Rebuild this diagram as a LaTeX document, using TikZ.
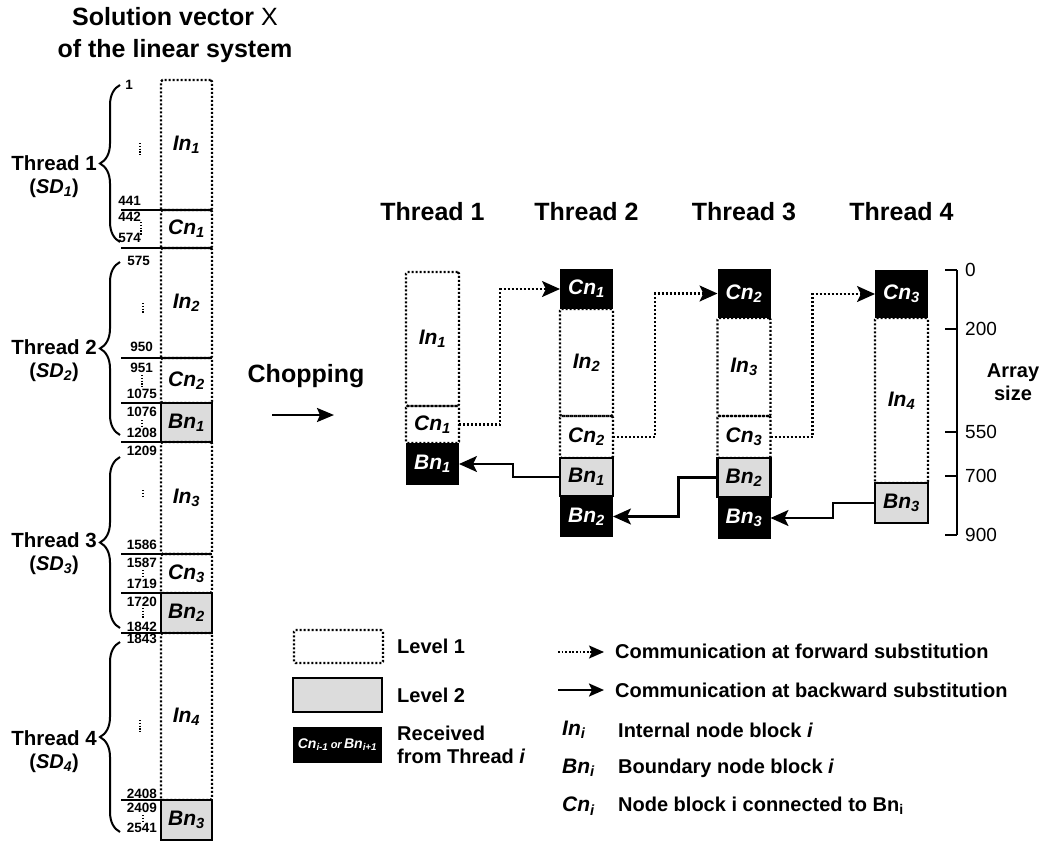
\documentclass[tikz,border=0pt]{standalone}
\usepackage{fontspec}
\setmainfont{Liberation Sans}
\usetikzlibrary{positioning,arrows.meta,decorations.pathreplacing}
\definecolor{lvgray}{HTML}{DCDCDC}
\newcommand\fsz[1]{\fontsize{#1}{#1}\selectfont}
\newcommand\blk[2]{#1\textsubscript{#2}}

\begin{document}
\begin{tikzpicture}[
  x=1pt, y=-1pt,
  font=\fsz{20}\bfseries,
  lvone/.style={draw, line width=2.2pt, dash pattern=on 2pt off 2pt, rounded corners=1.5pt,
                inner sep=0pt, outer sep=0pt, font=\fsz{21}\bfseries\itshape},
  lvtwo/.style={draw, line width=2.2pt, fill=lvgray, inner sep=0pt, outer sep=0pt,
                font=\fsz{21}\bfseries\itshape},
  recv/.style={fill=black, text=white, inner sep=0pt, outer sep=0pt, font=\fsz{21}\bfseries\itshape},
  tblk/.style={minimum width=53},
  lblk/.style={minimum width=51},
  sepline/.style={line width=2.4pt},
  brc/.style={decorate, decoration={brace, amplitude=20pt}, line width=2pt},
  num/.style={font=\fsz{13.5}\bfseries, inner sep=0pt},
  vdot/.style={line width=1.4pt, dash pattern=on 1.4pt off 1.4pt},
  tip/.style={-{Stealth[length=18pt, width=16pt, inset=4pt]}},
  farr/.style={tip, line width=2.2pt, dash pattern=on 2pt off 2pt},
  barr/.style={tip, line width=2.2pt},
  txt/.style={inner sep=0pt},
  hd/.style={txt, font=\fsz{25}\bfseries},
  keyblk/.style={txt, font=\fsz{21}\bfseries\itshape}
]
\useasboundingbox (0,0) rectangle (1043,846);
% ----- left column: solution vector -----
\node[hd, align=center] (title) at (175,35) {Solution vector {\mdseries X}\\[7pt]of the linear system};
\node[lvone, lblk, minimum height=130, anchor=north] (lin1) at (186.5,80) {\blk{In}{1}};
\node[lvone, lblk, minimum height=38, below=0pt of lin1] (lcn1) {\blk{Cn}{1}};
\node[lvone, lblk, minimum height=110, below=0pt of lcn1] (lin2) {\blk{In}{2}};
\node[lvone, lblk, minimum height=45, below=0pt of lin2] (lcn2) {\blk{Cn}{2}};
\node[lvtwo, lblk, minimum height=39, below=0pt of lcn2] (lbn1) {\blk{Bn}{1}};
\node[lvone, lblk, minimum height=112, below=0pt of lbn1] (lin3) {\blk{In}{3}};
\node[lvone, lblk, minimum height=39, below=0pt of lin3] (lcn3) {\blk{Cn}{3}};
\node[lvtwo, lblk, minimum height=40, below=0pt of lcn3] (lbn2) {\blk{Bn}{2}};
\node[lvone, lblk, minimum height=167, below=0pt of lbn2] (lin4) {\blk{In}{4}};
\node[lvtwo, lblk, minimum height=40, below=0pt of lin4] (lbn3) {\blk{Bn}{3}};
\foreach \n in {lin1,lcn1,lin2,lcn2,lbn1,lin3,lcn3,lbn2,lin4}{\draw[sepline] (\n.south east) -- ++(-91,0);}
% index numbers
\foreach \t/\x/\y in {1/133/85, 441/141/201, 442/141/217, 574/141/238, 575/150/261, 950/153/347,
  951/153/368, 1075/157/394, 1076/157/412, 1208/157/433, 1209/157/451, 1586/157/545,
  1587/157/563, 1719/157/584, 1720/157/602, 1842/157/627, 1843/157/639, 2408/157/794,
  2409/157/808, 2541/157/828}{\node[num, anchor=east] (n\t) at (\x,\y) {\t};}
\foreach \x/\a/\b in {140/143/155, 141/222/235, 143/303/313, 142/375/387, 142/420/428,
  143/490/498, 143/570/578, 143/608/618, 140/720/732, 143/815/822}{\draw[vdot] (\x,\a) -- (\x,\b);}
% thread braces
\draw[brc] (120,242) -- (120,85);
\draw[brc] (120,435) -- (120,262);
\draw[brc] (120,628) -- (120,457);
\draw[brc] (120,832) -- (120,642);
\foreach \i/\y in {1/163, 2/347, 3/540, 4/738}{
  \node[txt, anchor=east, font=\fsz{20.5}\bfseries] (lt\i) at (97,\y) {Thread \i};
  \node[txt, below=8pt of lt\i] (lsd\i) {(\textit{SD}\textsubscript{\itshape\i})};
}
% ----- chopping -----
\node[txt, font=\fsz{25}\bfseries] (chop) at (306,376) {Chopping};
\coordinate (chopa) at (272,415);
\coordinate (chopb) at (334,415);
\draw[line width=2.4pt, -{Stealth[length=17pt, width=14pt, inset=3pt]}] (chopa) -- (chopb);
% ----- thread columns -----
\foreach \i/\x in {1/432.5, 2/586.5, 3/744, 4/901.5}{\node[hd] (hd\i) at (\x,212) {Thread \i};}
\node[lvone, tblk, minimum height=134, anchor=north] (t1in) at (432.5,272) {\blk{In}{1}};
\node[lvone, tblk, minimum height=37, below=0pt of t1in] (t1cn) {\blk{Cn}{1}};
\node[recv, tblk, minimum height=42, below=0pt of t1cn] (t1bn) {\blk{Bn}{1}};
\node[recv, tblk, minimum height=40, anchor=north] (t2cn1) at (586.5,269) {\blk{Cn}{1}};
\node[lvone, tblk, minimum height=107, below=0pt of t2cn1] (t2in) {\blk{In}{2}};
\node[lvone, tblk, minimum height=42, below=0pt of t2in] (t2cn) {\blk{Cn}{2}};
\node[lvtwo, tblk, minimum height=38, below=0pt of t2cn] (t2bn1) {\blk{Bn}{1}};
\node[recv, tblk, minimum height=41, below=0pt of t2bn1] (t2bn2) {\blk{Bn}{2}};
\node[recv, tblk, minimum height=49, anchor=north] (t3cn2) at (744,269) {\blk{Cn}{2}};
\node[lvone, tblk, minimum height=98, below=0pt of t3cn2] (t3in) {\blk{In}{3}};
\node[lvone, tblk, minimum height=42, below=0pt of t3in] (t3cn) {\blk{Cn}{3}};
\node[lvtwo, tblk, minimum height=39, below=0pt of t3cn] (t3bn2) {\blk{Bn}{2}};
\node[recv, tblk, minimum height=42, below=0pt of t3bn2] (t3bn3) {\blk{Bn}{3}};
\node[recv, tblk, minimum height=48, anchor=north] (t4cn3) at (901.5,270) {\blk{Cn}{3}};
\node[lvone, tblk, minimum height=165, below=0pt of t4cn3] (t4in) {\blk{In}{4}};
\node[lvtwo, tblk, minimum height=40, below=0pt of t4in] (t4bn) {\blk{Bn}{3}};
% forward / backward communication
\foreach \a/\b/\d in {t1cn/t2cn1/41, t2cn/t3cn2/42, t3cn/t4cn3/42}{\draw[farr] (\a.east) -- ++(\d,0) |- (\b.west);}
\foreach \a/\b/\d in {t2bn1/t1bn/47, t3bn2/t2bn2/39, t4bn/t3bn3/42}{\draw[barr] (\a.west) -- ++(-\d,0) |- (\b.east);}
% ----- array size axis -----
\draw[line width=2.4pt] (957,270) -- (957,535);
\foreach \v in {0,200,550,700,900}{
  \draw[line width=2.4pt] (945,{270+\v*0.2944}) -- (957,{270+\v*0.2944});
  \node[txt, anchor=west, font=\fsz{19}\mdseries] (ax\v) at (965,{270+\v*0.2944}) {\v};
}
\node[txt, align=center] (axlab) at (1013,382) {Array\\[3pt]size};
% ----- legend -----
\node[lvone, minimum width=89, minimum height=33, anchor=north west] (keyone) at (294,630) {};
\node[txt, right=14pt of keyone] (keyonetxt) {Level 1};
\node[lvtwo, minimum width=89, minimum height=34, anchor=north west] (keytwo) at (293,678) {};
\node[txt, right=15pt of keytwo] (keytwotxt) {Level 2};
\node[recv, minimum width=89, minimum height=36, anchor=north west, font=\fsz{14}\bfseries\itshape] (keythree) at (293,727)
  {\blk{Cn}{i-1}\,{\fsz{11}or}\,\blk{Bn}{i+1}};
\node[txt, right=15pt of keythree, align=left] (keythreetxt) {Received\\[3pt]from Thread \textit{i}};
\coordinate (fwa) at (558,652);
\coordinate (fwb) at (604,652);
\draw[line width=1.8pt, dash pattern=on 1.8pt off 1.8pt, -{Stealth[length=15pt, width=13pt, inset=3pt]}] (fwa) -- (fwb);
\node[txt, anchor=west] (fwtxt) at (615,651) {Communication at forward substitution};
\coordinate (bwa) at (558,690);
\coordinate (bwb) at (604,690);
\draw[line width=2.2pt, -{Stealth[length=15pt, width=13pt, inset=3pt]}] (bwa) -- (bwb);
\node[txt, anchor=west] (bwtxt) at (615,690) {Communication at backward substitution};
\node[keyblk, anchor=west] (keyin) at (562,730) {\blk{In}{i}};
\node[txt, anchor=west] (keyintxt) at (618,730) {Internal node block \textit{i}};
\node[keyblk, anchor=west] (keybn) at (562,768) {\blk{Bn}{i}};
\node[txt, anchor=west] (keybntxt) at (618,768) {Boundary node block \textit{i}};
\node[keyblk, anchor=west] (keycn) at (562,806) {\blk{Cn}{i}};
\node[txt, anchor=west] (keycntxt) at (618,806) {Node block i connected to Bn\textsubscript{i}};
\end{tikzpicture}
\end{document}
